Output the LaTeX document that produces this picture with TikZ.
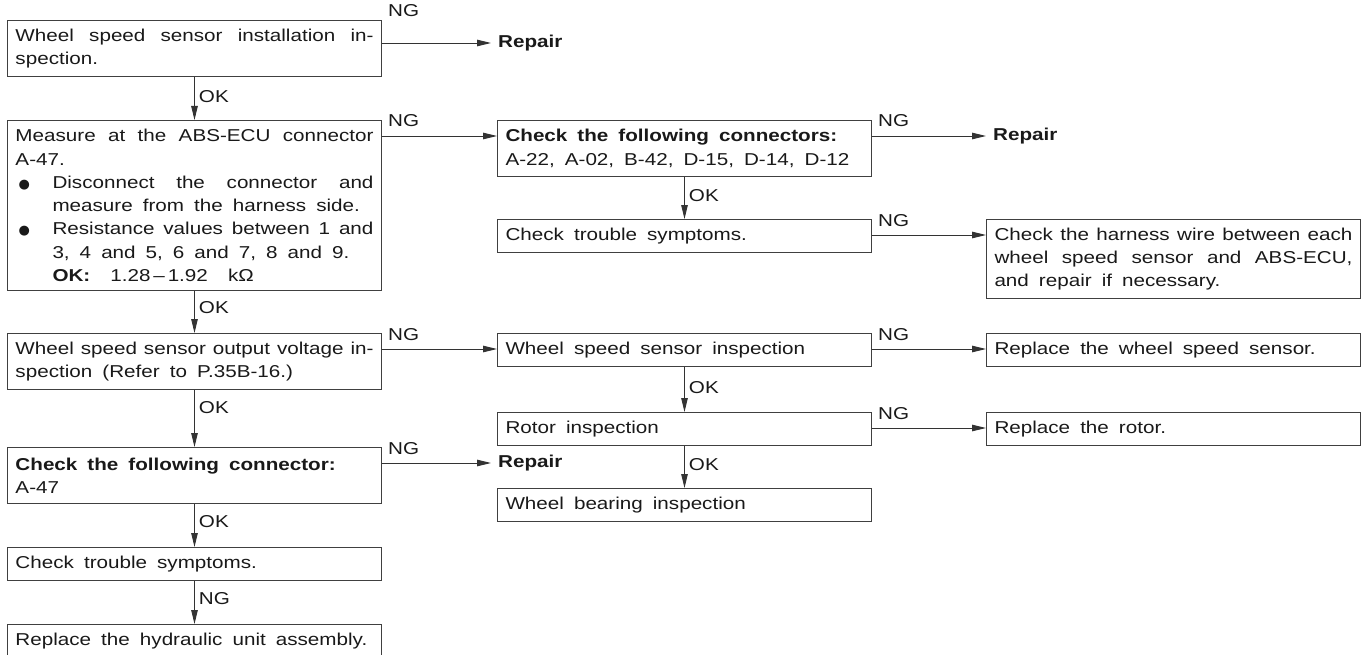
\documentclass[tikz,border=0pt]{standalone}
\usepackage{fontspec}
\setmainfont{Liberation Sans}[FakeStretch=1.2,WordSpace=1.75]
\newfontfamily\symfont{DejaVu Sans}
\usetikzlibrary{arrows.meta,calc}
\newcommand\dgfont{\fontsize{17.2pt}{23.3pt}\selectfont}
\newcommand\bigdot{\makebox[37pt][l]{\hspace{3pt}{\symfont\fontsize{13pt}{13pt}\selectfont ●}}}
\tikzset{
  box/.style={draw=black!75, line width=1pt, rectangle, anchor=north west,
    minimum width=374pt, text width=358pt, inner xsep=8pt, inner ysep=0pt,
    align=justify, font=\dgfont, text=black!90},
  lab/.style={font=\dgfont, text=black!90, inner sep=0pt},
  rep/.style={font=\dgfont\bfseries, text=black!90, inner xsep=7pt, inner ysep=0pt, anchor=west},
  conn/.style={draw=black!80, line width=0.9pt, -{Triangle[length=14pt,width=6.5pt]}},
}
\begin{document}
\begin{tikzpicture}[x=1pt,y=-1pt]
\useasboundingbox (0,0) rectangle (1367,655);
% left column
\node[box, minimum height=56pt] (b1) at (7,20) {Wheel speed sensor installation in-\linebreak spection.};
\node[box, minimum height=170pt] (b2) at (7,120) {\parindent=0pt Measure at the ABS-ECU connector\linebreak A-47.\par
\hangindent=37pt\hangafter=1\noindent\bigdot Disconnect the connector and\linebreak measure from the harness side.\par
\hangindent=37pt\hangafter=1\noindent\bigdot Resistance values between 1 and\linebreak 3, 4 and 5, 6 and 7, 8 and 9.\par
\noindent\hspace*{37pt}\textbf{OK:}\ \ 1.28\,--\,1.92\ \ k\symbol{"03A9}};
\node[box, minimum height=56pt] (b3) at (7,333) {Wheel speed sensor output voltage in-\linebreak spection (Refer to P.35B-16.)};
\node[box, minimum height=56pt] (b4) at (7,447) {\textbf{Check the following connector:}\par A-47};
\node[box, minimum height=33pt] (b5) at (7,547) {Check trouble symptoms.};
\node[box, minimum height=33pt] (b6) at (7,624) {Replace the hydraulic unit assembly.};
% middle column
\node[box, minimum height=56pt] (m1) at (497,120) {\textbf{Check the following connectors:}\par A-22, A-02, B-42, D-15, D-14, D-12};
\node[box, minimum height=33pt] (m2) at (497,219) {Check trouble symptoms.};
\node[box, minimum height=33pt] (m3) at (497,333) {Wheel speed sensor inspection};
\node[box, minimum height=33pt] (m4) at (497,412) {Rotor inspection};
\node[box, minimum height=33pt] (m5) at (497,488) {Wheel bearing inspection};
% right column
\node[box, minimum height=79pt] (r2) at (986,219) {Check the harness wire between each\linebreak wheel speed sensor and ABS-ECU,\linebreak and repair if necessary.};
\node[box, minimum height=33pt] (r3) at (986,333) {Replace the wheel speed sensor.};
\node[box, minimum height=33pt] (r4) at (986,412) {Replace the rotor.};
% NG exits
\coordinate (b1o) at ($(b1.north east)+(0,23)$);
\coordinate (b2o) at ($(b2.north east)+(0,16)$);
\coordinate (b3o) at ($(b3.north east)+(0,16)$);
\coordinate (b4o) at ($(b4.north east)+(0,16)$);
\coordinate (m1o) at ($(m1.north east)+(0,16)$);
\coordinate (m2o) at ($(m2.north east)+(0,16)$);
\coordinate (m3o) at ($(m3.north east)+(0,16)$);
\coordinate (m4o) at ($(m4.north east)+(0,16)$);
\node[rep] (rep1) at (491,0 |- b1o) {Repair};
\node[rep] (rep2) at (986,0 |- m1o) {Repair};
\node[rep] (rep3) at (491,0 |- b4o) {Repair};
\draw[conn] (b1o) -- (rep1.west);
\draw[conn] (b2o) -- (m1.west |- b2o);
\draw[conn] (b3o) -- (m3.west |- b3o);
\draw[conn] (b4o) -- (rep3.west);
\draw[conn] (m1o) -- (rep2.west);
\draw[conn] (m2o) -- (r2.west |- m2o);
\draw[conn] (m3o) -- (r3.west |- m3o);
\draw[conn] (m4o) -- (r4.west |- m4o);
\node[lab, anchor=base west] (ng1) at ($(b1.north east)+(6,-3)$) {NG};
\foreach \c/\n in {b2o/ng2,b3o/ng3,b4o/ng4,m1o/ng5,m2o/ng6,m3o/ng7,m4o/ng8}
  \node[lab, anchor=base west] (\n) at ($(\c)+(6,-9)$) {NG};
% vertical connectors
\draw[conn] (b1) -- node[lab, anchor=west, xshift=4pt, pos=0.45] (ok1) {OK} (b2);
\draw[conn] (b2) -- node[lab, anchor=west, xshift=4pt, pos=0.4] (ok2) {OK} (b3);
\draw[conn] (b3) -- node[lab, anchor=west, xshift=4pt, pos=0.3] (ok3) {OK} (b4);
\draw[conn] (b4) -- node[lab, anchor=west, xshift=4pt, pos=0.4] (ok4) {OK} (b5);
\draw[conn] (b5) -- node[lab, anchor=west, xshift=4pt, pos=0.4] (ng9) {NG} (b6);
\draw[conn] (m1) -- node[lab, anchor=west, xshift=4pt, pos=0.45] (ok5) {OK} (m2);
\draw[conn] (m3) -- node[lab, anchor=west, xshift=4pt, pos=0.45] (ok6) {OK} (m4);
\draw[conn] (m4) -- node[lab, anchor=west, xshift=4pt, pos=0.45] (ok7) {OK} (m5);
\end{tikzpicture}
\end{document}
